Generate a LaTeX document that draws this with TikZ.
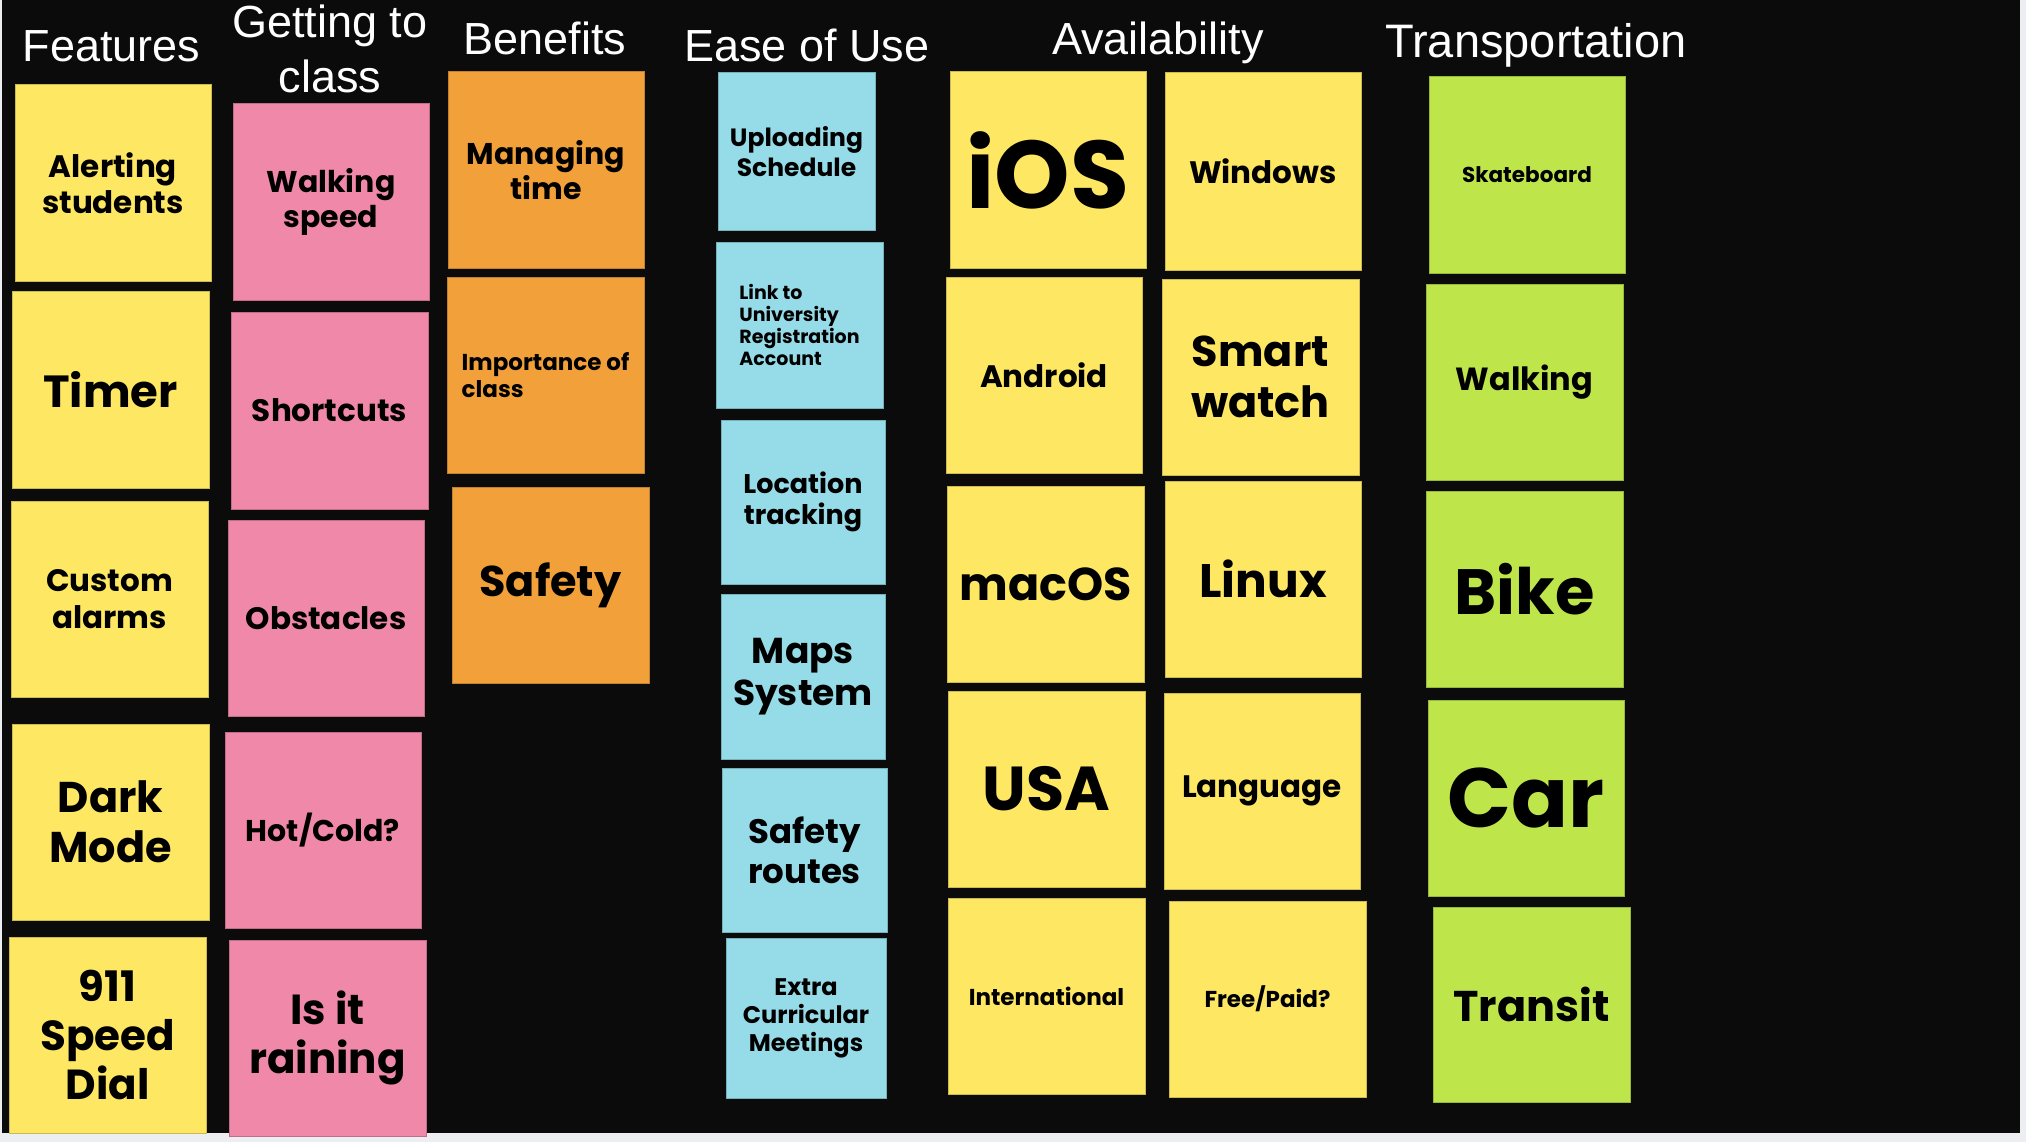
\documentclass[tikz,border=0pt]{standalone}
\usepackage{fontspec}
\setmainfont{Liberation Sans}
\newfontfamily\notefont{Poppins}
\definecolor{bgblack}{HTML}{0B0B0B}
\definecolor{strip}{HTML}{EDEEF1}
\definecolor{nyellow}{HTML}{FEE863}
\definecolor{npink}{HTML}{F088AA}
\definecolor{norange}{HTML}{F2A13A}
\definecolor{nblue}{HTML}{96DCE8}
\definecolor{ngreen}{HTML}{BEE64B}
\newcommand\snAlign{center}
\newcommand\stickynote[8]{%
  \pgfmathsetmacro\snW{#4-#2}\pgfmathsetmacro\snH{#5-#3}%
  \pgfmathsetmacro\snL{#7*1.17}%
  \node[note=#6, align=\snAlign, minimum width=\snW pt, minimum height=\snH pt,
        font=\notefont\bfseries\fontsize{#7}{\snL}\selectfont]
        (#1) at ({(#2+#4)/2},{(#3+#5)/2}) {#8};}
\begin{document}
\begin{tikzpicture}[x=1pt,y=-1pt,
  note/.style={draw=#1!80!black, fill=#1, line width=1pt, inner sep=0pt,
               text=black},
  hdr/.style={text=white, inner sep=0pt, align=center,
              font=\fontsize{45}{55}\selectfont}]
\useasboundingbox (0,0) rectangle (2026,1142);
\fill[strip] (0,0) rectangle (2026,1142);
\fill[bgblack] (2,0) rectangle (2020,1133);

% headers
\node[hdr, anchor=base] (hFeat) at (111.5,62) {Features};
\node[hdr, anchor=base] (hGet) at (330,93) {Getting to\\class};
\node[hdr, anchor=base] (hBen) at (545,55) {Benefits};
\node[hdr, anchor=base] (hEase) at (807,62) {Ease of Use};
\node[hdr, anchor=base] (hAvail) at (1158,55) {Availability};
\node[hdr, anchor=base, font=\fontsize{47}{55}\selectfont] (hTrans) at (1536,58) {Transportation};

% Features
\stickynote{f1}{15}{85}{211}{281}{nyellow}{31}{Alerting\\students}
\stickynote{f2}{12}{291}{209}{488}{nyellow}{45}{Timer}
\stickynote{f3}{11}{501}{208}{697}{nyellow}{31}{Custom\\alarms}
\stickynote{f4}{12}{724}{209}{920}{nyellow}{43}{Dark\\Mode}
\stickynote{f5}{9}{937}{206}{1133}{nyellow}{42}{911\\Speed\\Dial}

% Getting to class
\stickynote{g1}{233}{104}{429}{300}{npink}{30}{Walking\\speed}
\stickynote{g2}{231}{312}{428}{509}{npink}{31}{Shortcuts}
\stickynote{g3}{228}{520}{424}{716}{npink}{31}{Obstacles}
\stickynote{g4}{225}{732}{421}{928}{npink}{30}{Hot/Cold?}
\stickynote{g5}{229}{940}{426}{1136}{npink}{42}{Is it\\raining}

% Benefits
\stickynote{b1}{448}{72}{644}{268}{norange}{30}{Managing\\time}
{\renewcommand\snAlign{left}%
\stickynote{b2}{447}{277}{644}{473}{norange}{23}{Importance of\\class}}
\stickynote{b3}{452}{487}{649}{683}{norange}{43}{Safety}

% Ease of Use
\stickynote{e1}{718}{73}{875}{230}{nblue}{25}{Uploading\\Schedule}
{\renewcommand\snAlign{left}%
\stickynote{e2}{716}{242}{883}{408}{nblue}{19}{Link to\\University\\Registration\\Account}}
\stickynote{e3}{721}{420}{885}{584}{nblue}{27}{Location\\tracking}
\stickynote{e4}{721}{594}{885}{759}{nblue}{36}{Maps\\System}
\stickynote{e5}{722}{768}{887}{932}{nblue}{34}{Safety\\routes}
\stickynote{e6}{726}{938}{886}{1098}{nblue}{24}{Extra\\Curricular\\Meetings}

% Availability
\stickynote{a1}{950}{72}{1146}{268}{nyellow}{96}{iOS}
\stickynote{a2}{946}{277}{1142}{473}{nyellow}{31}{Android}
\stickynote{a3}{947}{486}{1144}{682}{nyellow}{46}{macOS}
\stickynote{a4}{948}{691}{1145}{887}{nyellow}{62}{USA}
\stickynote{a5}{948}{898}{1145}{1094}{nyellow}{23}{International}
\stickynote{w1}{1165}{73}{1361}{270}{nyellow}{31}{Windows}
\stickynote{w2}{1162}{279}{1359}{475}{nyellow}{43}{Smart\\watch}
\stickynote{w3}{1165}{481}{1361}{677}{nyellow}{47}{Linux}
\stickynote{w4}{1164}{693}{1360}{889}{nyellow}{31}{Language}
\stickynote{w5}{1169}{901}{1366}{1097}{nyellow}{23}{Free/Paid?}

% Transportation
\stickynote{t1}{1429}{77}{1625}{273}{ngreen}{21.5}{Skateboard}
\stickynote{t2}{1426}{284}{1623}{480}{ngreen}{32}{Walking}
\stickynote{t3}{1426}{491}{1623}{687}{ngreen}{64}{Bike}
\stickynote{t4}{1428}{700}{1624}{896}{ngreen}{84}{Car}
\stickynote{t5}{1433}{907}{1630}{1102}{ngreen}{43}{Transit}
\end{tikzpicture}
\end{document}
